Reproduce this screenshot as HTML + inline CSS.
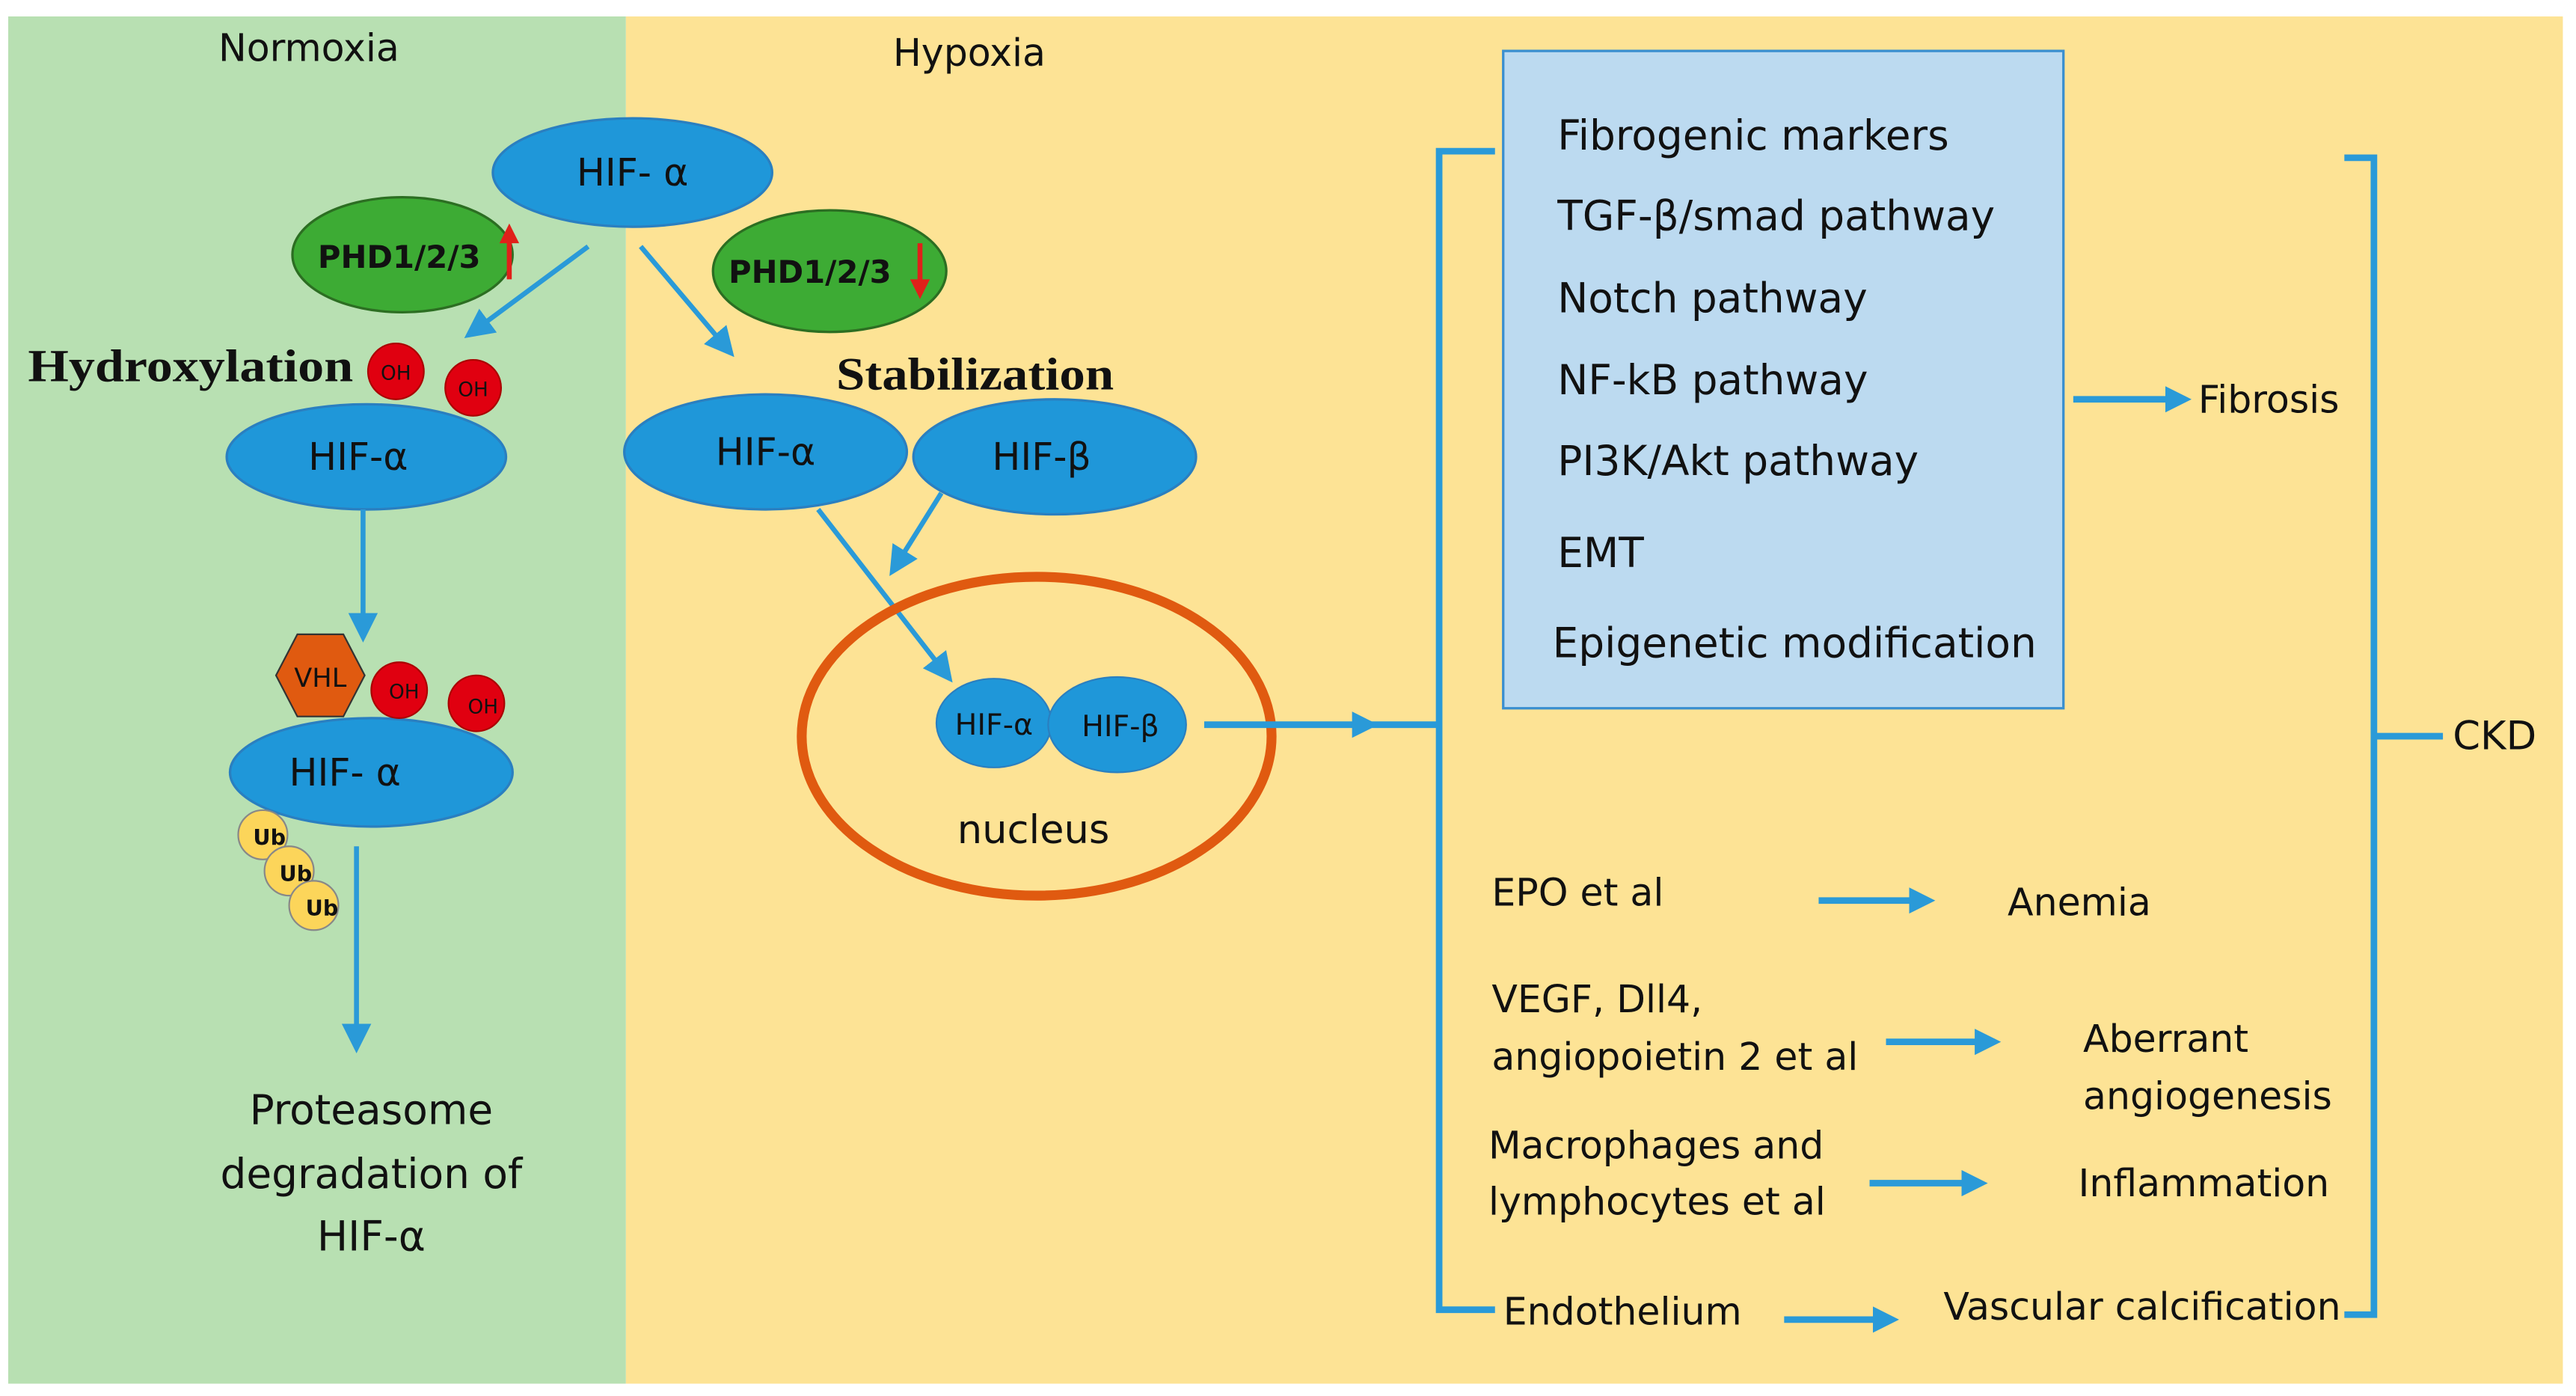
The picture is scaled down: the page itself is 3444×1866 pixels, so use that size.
<!DOCTYPE html>
<html><head><meta charset="utf-8">
<style>
html,body{margin:0;padding:0;background:#fff;}
svg{display:block;}
text{font-family:"DejaVu Sans","Liberation Sans",sans-serif;fill:#111;}
.s{font-family:"Liberation Serif",serif;font-weight:bold;}
</style></head>
<body>
<svg width="3444" height="1866" viewBox="0 0 1568 849.5" preserveAspectRatio="none" xmlns="http://www.w3.org/2000/svg">
<defs>
<marker id="a" markerWidth="6" markerHeight="6" refX="5" refY="3" orient="auto" markerUnits="strokeWidth"><path d="M0,0 L6,3 L0,6 z" fill="#2a9ad8"/></marker>
<marker id="b" markerWidth="4" markerHeight="4" refX="3" refY="2" orient="auto" markerUnits="strokeWidth"><path d="M0,0 L4,2 L0,4 z" fill="#2a9ad8"/></marker>
</defs>
<rect x="5" y="10" width="376" height="832" fill="#b8e0b2"/>
<rect x="381" y="10" width="1179" height="832" fill="#fde395"/>
<text x="188" y="37" font-size="23" text-anchor="middle">Normoxia</text>
<text x="590" y="40" font-size="23" text-anchor="middle">Hypoxia</text>

<g stroke="#2a7fc0" stroke-width="1.5" fill="#1f97d9">
<ellipse cx="385" cy="105" rx="85" ry="33"/>
<ellipse cx="223" cy="278" rx="85" ry="32"/>
<ellipse cx="226" cy="470" rx="86" ry="33"/>
<ellipse cx="466" cy="275" rx="86" ry="35"/>
<ellipse cx="642" cy="278" rx="86" ry="35"/>
</g>
<g font-size="23" fill="#222" text-anchor="middle">
<text x="385" y="113">HIF- α</text>
<text x="218" y="286">HIF-α</text>
<text x="210" y="478">HIF- α</text>
<text x="466" y="283">HIF-α</text>
<text x="634" y="286">HIF-β</text>
</g>

<g stroke="#2c6e22" stroke-width="1.5" fill="#3dab34">
<ellipse cx="245" cy="155" rx="67" ry="35"/>
<ellipse cx="505" cy="165" rx="71" ry="37"/>
</g>
<text x="243" y="163" font-size="19" font-weight="bold" text-anchor="middle">PHD1/2/3</text>
<text x="493" y="172" font-size="19" font-weight="bold" text-anchor="middle">PHD1/2/3</text>
<path d="M310,170 L310,145" stroke="#e0201a" stroke-width="3"/><path d="M304,148 L310,136 L316,148z" fill="#e0201a"/>
<path d="M560,148 L560,172" stroke="#e0201a" stroke-width="3"/><path d="M554,170 L560,182 L566,170z" fill="#e0201a"/>

<g stroke="#2a9ad8" stroke-width="3" fill="none" marker-end="url(#a)">
<line x1="358" y1="150" x2="285" y2="204"/>
<line x1="390" y1="150" x2="445" y2="215"/>
<line x1="221" y1="310" x2="221" y2="388"/>
<line x1="217" y1="515" x2="217" y2="638"/>
<line x1="498" y1="310" x2="578" y2="413"/>
<line x1="573" y1="300" x2="543" y2="348"/>
</g>

<text x="17" y="232" font-size="28" class="s" textLength="198" lengthAdjust="spacingAndGlyphs">Hydroxylation</text>
<text x="509" y="237" font-size="28" class="s" textLength="169" lengthAdjust="spacingAndGlyphs">Stabilization</text>

<g fill="#e00010" stroke="#a00" stroke-width="1">
<circle cx="241" cy="226" r="17"/><circle cx="288" cy="236" r="17"/>
<circle cx="243" cy="420" r="17"/><circle cx="290" cy="428" r="17"/>
</g>
<g font-size="12" fill="#222" text-anchor="middle">
<text x="241" y="231">OH</text><text x="288" y="241">OH</text>
<text x="246" y="425">OH</text><text x="294" y="434">OH</text>
</g>
<polygon points="168,411 181,386 209,386 222,411 209,436 181,436" fill="#e05a10" stroke="#333" stroke-width="1"/>
<text x="195" y="418" font-size="16" text-anchor="middle">VHL</text>
<g fill="#fcd55a" stroke="#888" stroke-width="1">
<circle cx="160" cy="508" r="15"/><circle cx="176" cy="530" r="15"/><circle cx="191" cy="551" r="15"/>
</g>
<g font-size="13" font-weight="bold" text-anchor="middle">
<text x="164" y="514">Ub</text><text x="180" y="536">Ub</text><text x="196" y="557">Ub</text>
</g>
<g font-size="25" text-anchor="middle">
<text x="226" y="684">Proteasome</text>
<text x="226" y="723">degradation of</text>
<text x="226" y="761">HIF-α</text>
</g>

<ellipse cx="631" cy="448" rx="143" ry="97" fill="none" stroke="#e05a10" stroke-width="6"/>
<ellipse cx="605" cy="440" rx="35" ry="27" fill="#1f97d9" stroke="#2a7fc0"/>
<ellipse cx="680" cy="441" rx="42" ry="29" fill="#1f97d9" stroke="#2a7fc0"/>
<text x="605" y="447" font-size="18" text-anchor="middle">HIF-α</text>
<text x="682" y="448" font-size="18" text-anchor="middle">HIF-β</text>
<text x="629" y="513" font-size="24" text-anchor="middle">nucleus</text>
<line x1="733" y1="441" x2="835" y2="441" stroke="#2a9ad8" stroke-width="4" marker-end="url(#b)"/>

<path d="M910,92 L876,92 L876,441 L835,441 M876,441 L876,797 L910,797" stroke="#2a9ad8" stroke-width="4" fill="none"/>
<rect x="915" y="31" width="341" height="400" fill="#bcdaf0" stroke="#3a8fd0" stroke-width="1.5"/>
<g font-size="25">
<text x="948" y="91">Fibrogenic markers</text>
<text x="948" y="140">TGF-β/smad pathway</text>
<text x="948" y="190">Notch pathway</text>
<text x="948" y="240">NF-kB pathway</text>
<text x="948" y="289">PI3K/Akt pathway</text>
<text x="948" y="345">EMT</text>
<text x="945" y="400">Epigenetic modification</text>
</g>
<line x1="1262" y1="243" x2="1330" y2="243" stroke="#2a9ad8" stroke-width="4" marker-end="url(#b)"/>
<text x="1338" y="251" font-size="23">Fibrosis</text>
<path d="M1427,96 L1445,96 L1445,448 L1487,448 M1445,448 L1445,800 L1427,800" stroke="#2a9ad8" stroke-width="4" fill="none"/>
<text x="1493" y="456" font-size="24">CKD</text>

<g font-size="23">
<text x="908" y="551">EPO et al</text>
<text x="1222" y="557">Anemia</text>
<text x="908" y="616">VEGF, Dll4,</text>
<text x="908" y="651">angiopoietin 2  et al</text>
<text x="1268" y="640">Aberrant</text>
<text x="1268" y="675">angiogenesis</text>
<text x="906" y="705">Macrophages and</text>
<text x="906" y="739">lymphocytes  et al</text>
<text x="1265" y="728">Inflammation</text>
<text x="915" y="806">Endothelium</text>
<text x="1183" y="803">Vascular calcification</text>
</g>
<g stroke="#2a9ad8" stroke-width="4" marker-end="url(#b)">
<line x1="1107" y1="548" x2="1174" y2="548"/>
<line x1="1148" y1="634" x2="1214" y2="634"/>
<line x1="1138" y1="720" x2="1206" y2="720"/>
<line x1="1086" y1="803" x2="1152" y2="803"/>
</g>
</svg>
</body></html>
